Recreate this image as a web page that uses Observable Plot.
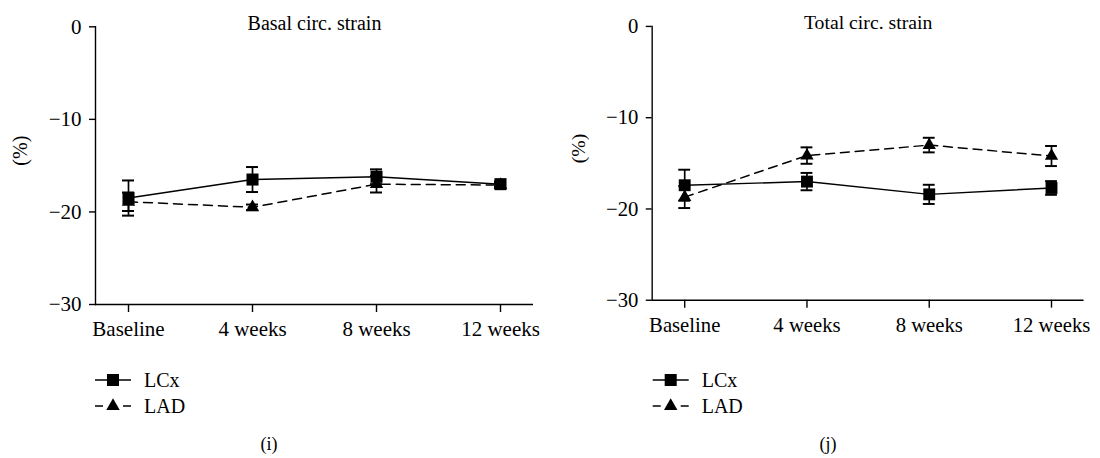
<!DOCTYPE html>
<html><head><meta charset="utf-8">
<script src="https://cdn.jsdelivr.net/npm/d3@7"></script>
<script src="https://cdn.jsdelivr.net/npm/@observablehq/plot@0.6"></script>
<style>
html,body{margin:0;padding:0;background:#fff;}
body{width:1100px;height:458px;overflow:hidden;position:relative;font-family:"Liberation Serif","Times New Roman","DejaVu Serif",serif;}
.panel{position:absolute;top:0;}
#overlay{position:absolute;top:0;left:0;}
svg text{font-family:"Liberation Serif","Times New Roman","DejaVu Serif",serif !important;}
</style></head><body>
<div id="p1" class="panel" style="left:0px"></div>
<div id="p2" class="panel" style="left:557.7px"></div>
<svg id="overlay" width="1100" height="458"></svg>
<script>
const timepoints = ["Baseline", "4 weeks", "8 weeks", "12 weeks"];
const seriesNames = ["LCx", "LAD"];
const basalLCx = [-18.5, -16.5, -16.2, -17.0];
const basalLCxErr = [1.9, 1.35, 0.8, 0.3];
const basalLAD = [-18.9, -19.5, -17.0, -17.1];
const basalLADErr = [1.0, 0.3, 0.9, 0.3];
const totalLCx = [-17.4, -17.0, -18.4, -17.7];
const totalLCxErr = [1.7, 0.95, 1.05, 0.75];
const totalLAD = [-18.7, -14.15, -13.0, -14.2];
const totalLADErr = [1.2, 0.9, 0.8, 1.1];
const yTicks = [0, -10, -20, -30];
const panelTitles = ["Basal circ. strain", "Total circ. strain"];
const panelCaptions = ["(i)", "(j)"];
const yLabel = "(%)";

const FONT = "'Liberation Serif', 'Times New Roman', 'DejaVu Serif', serif";

function rowsFor(lcx, lcxErr, lad, ladErr) {
  const rows = [];
  timepoints.forEach((t, i) => {
    rows.push({time: t, series: "LAD", value: lad[i], err: ladErr[i]});
    rows.push({time: t, series: "LCx", value: lcx[i], err: lcxErr[i]});
  });
  return rows;
}
const fmt = d => d === 0 ? "0" : "\u2212" + Math.abs(d);

function panel(rows, title) {
  const lad = rows.filter(d => d.series === "LAD");
  const lcx = rows.filter(d => d.series === "LCx");
  return Plot.plot({
    width: 550, height: 345,
    marginLeft: 95, marginRight: 17, marginTop: 26.3, marginBottom: 41,
    style: {fontFamily: FONT, fontSize: "20px", color: "#000", background: "transparent", overflow: "visible"},
    x: {type: "band", domain: timepoints, paddingInner: 0.904, paddingOuter: 0.211, align: 0.5},
    y: {domain: [-30, 0]},
    marks: [
      Plot.axisX({tickSize: 8, tickPadding: 9, strokeWidth: 1.4, label: null, fontSize: 21}),
      Plot.axisY({ticks: yTicks, tickSize: 6, tickPadding: 8, tickFormat: fmt, strokeWidth: 1.4, label: null, fontSize: 21}),
      Plot.ruleY([-30], {strokeWidth: 1.4}),
      Plot.frame({anchor: "left", strokeWidth: 1.4}),
      Plot.text([title], {frameAnchor: "top", dy: -11.3, fontSize: 20}),
      Plot.text([yLabel], {frameAnchor: "left", dx: -75, rotate: -90, fontSize: 20}),
      Plot.lineY(lad, {x: "time", y: "value", strokeDasharray: "9,6", strokeWidth: 1.5}),
      Plot.lineY(lcx, {x: "time", y: "value", strokeWidth: 1.5}),
      Plot.ruleX(rows, {x: "time", y1: d => d.value - d.err, y2: d => d.value + d.err, strokeWidth: 1.7}),
      Plot.tickY(rows, {x: "time", y: d => d.value + d.err, strokeWidth: 2}),
      Plot.tickY(rows, {x: "time", y: d => d.value - d.err, strokeWidth: 2}),
      Plot.dot(lad, {x: "time", y: "value", symbol: "triangle", r: 5, fill: "#000", stroke: "none"}),
      Plot.dot(lcx, {x: "time", y: "value", symbol: "square", r: 6.8, fill: "#000", stroke: "none"})
    ]
  });
}

document.getElementById("p1").appendChild(panel(rowsFor(basalLCx, basalLCxErr, basalLAD, basalLADErr), panelTitles[0]));
document.getElementById("p2").appendChild(panel(rowsFor(totalLCx, totalLCxErr, totalLAD, totalLADErr), panelTitles[1]));

// legends and captions
const ov = d3.select("#overlay");
const legendX = [95, 652.7];
const legendY = [380, 406];
const captionX = [269, 828];
legendX.forEach((lx, p) => {
  seriesNames.forEach((name, k) => {
    const y = legendY[k];
    const g = ov.append("g");
    if (name === "LCx") {
      g.append("line").attr("x1", lx).attr("x2", lx + 36).attr("y1", y).attr("y2", y).attr("stroke", "#000").attr("stroke-width", 1.5);
      g.append("rect").attr("x", lx + 18 - 6).attr("y", y - 6).attr("width", 12).attr("height", 12).attr("fill", "#000");
    } else {
      g.append("line").attr("x1", lx).attr("x2", lx + 8).attr("y1", y).attr("y2", y).attr("stroke", "#000").attr("stroke-width", 1.5);
      g.append("line").attr("x1", lx + 28).attr("x2", lx + 36).attr("y1", y).attr("y2", y).attr("stroke", "#000").attr("stroke-width", 1.5);
      g.append("path").attr("d", d3.symbol(d3.symbolTriangle, Math.PI * 5 * 5)()).attr("transform", `translate(${lx + 18},${y})`).attr("fill", "#000");
    }
    g.append("text").attr("x", lx + 49).attr("y", y).attr("dy", "0.35em")
      .attr("font-size", 20).text(name);
  });
  ov.append("text").attr("x", captionX[p]).attr("y", 444).attr("dy", "0.35em").attr("text-anchor", "middle")
    .attr("font-size", 18).text(panelCaptions[p]);
});
</script>
</body></html>
